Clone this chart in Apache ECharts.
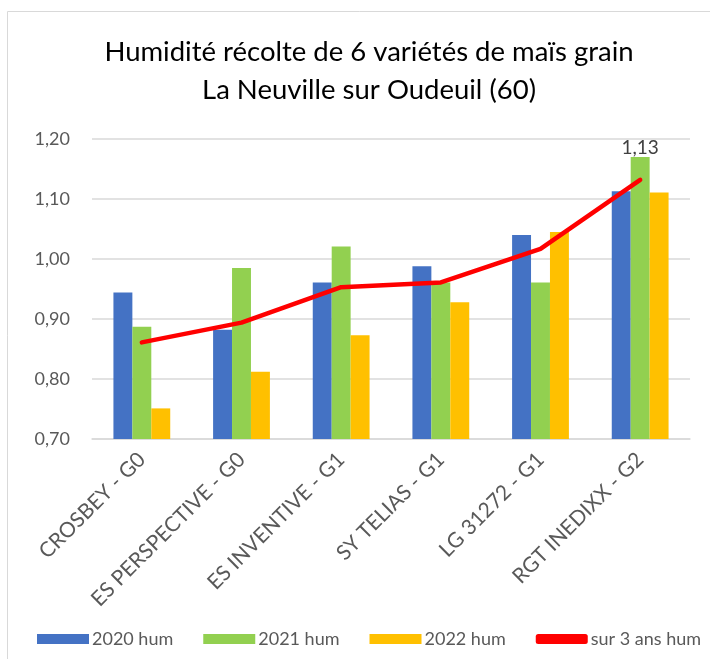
<!DOCTYPE html>
<html><head><meta charset="utf-8">
<script src="https://cdn.jsdelivr.net/npm/echarts@6/dist/echarts.min.js"></script>
<style>html,body{margin:0;padding:0;background:#fff}#c{width:710px;height:659px}</style>
</head><body><div id="c"></div>
<script>
const categories = ["CROSBEY - G0","ES PERSPECTIVE - G0","ES INVENTIVE - G1","SY TELIAS - G1","LG 31272 - G1","RGT INEDIXX - G2"];
const hum2020 = [0.944,0.882,0.961,0.988,1.040,1.113];
const hum2021 = [0.887,0.985,1.021,0.961,0.961,1.170];
const hum2022 = [0.751,0.812,0.873,0.928,1.045,1.111];
const hum3ans = [0.861,0.894,0.953,0.961,1.017,1.132];
const yTicks = [0.70,0.80,0.90,1.00,1.10,1.20];
const fnt = "Lato, 'Open Sans', sans-serif";
const chart = echarts.init(document.getElementById('c'));
const fmt = v => v.toFixed(2).replace('.', ',');
chart.setOption({
  animation:false,
  graphic:[{type:'rect',shape:{x:7.5,y:11.5,width:720,height:700},style:{fill:'none',stroke:'#d9d9d9',lineWidth:1}}],
  title:{text:'Humidité récolte de 6 variétés de maïs grain\nLa Neuville sur Oudeuil (60)',left:364,textAlign:'center',top:28,
    textStyle:{fontFamily:fnt,fontSize:27.5,fontWeight:'normal',color:'#000',lineHeight:38}},
  legend:{bottom:11,left:37,right:0,padding:0,itemGap:30,itemWidth:52,itemHeight:10,
    textStyle:{fontFamily:fnt,fontSize:18,color:'#595959',padding:[0,0,0,-2]},
    data:[{name:'2020 hum',icon:'rect'},{name:'2021 hum',icon:'rect'},{name:'2022 hum',icon:'rect'},{name:'sur 3 ans hum',icon:'roundRect',itemStyle:{color:'#ff0000'}}]},
  grid:{left:92,right:20,top:139,bottom:220,containLabel:false},
  xAxis:{type:'category',data:categories,axisTick:{show:false},
    axisLine:{lineStyle:{color:'#d9d9d9',width:1.5}},
    axisLabel:{rotate:45,interval:0,fontFamily:fnt,fontSize:21,color:'#595959',margin:17}},
  yAxis:{type:'value',min:0.7,max:1.2,interval:0.1,
    axisLabel:{formatter:v=>fmt(v),fontFamily:fnt,fontSize:18,color:'#595959',margin:22},
    splitLine:{lineStyle:{color:'#d9d9d9',width:1.5}},axisLine:{show:false},axisTick:{show:false}},
  series:[
    {name:'2020 hum',type:'bar',data:hum2020,itemStyle:{color:'#4472c4'},barGap:'0%',barCategoryGap:'43%'},
    {name:'2021 hum',type:'bar',data:hum2021,itemStyle:{color:'#92d050'}},
    {name:'2022 hum',type:'bar',data:hum2022,itemStyle:{color:'#ffc000'}},
    {name:'sur 3 ans hum',type:'line',data:hum3ans,symbol:'circle',symbolSize:1,showSymbol:true,lineStyle:{color:'#ff0000',width:4.5,cap:'round'},itemStyle:{color:'#ff0000'},
      label:{show:true,position:'top',distance:22,fontFamily:fnt,fontSize:19,color:'#404040',
        formatter:p=>p.dataIndex===5?fmt(p.value):''}}
  ]
});
</script></body></html>
